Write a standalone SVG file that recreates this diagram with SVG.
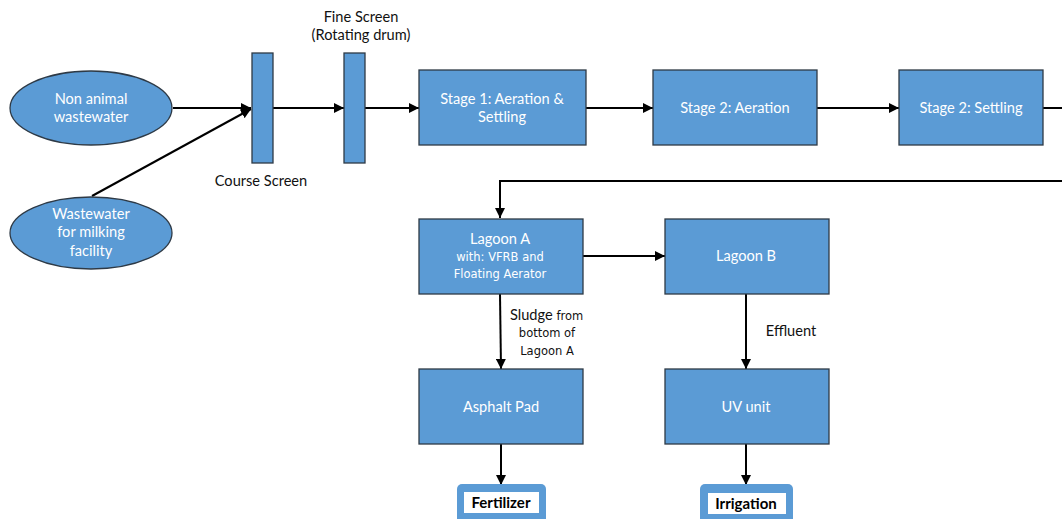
<svg xmlns="http://www.w3.org/2000/svg" width="1062" height="519" viewBox="0 0 1062 519">
<style>
.box{fill:#5b9bd5;stroke:#2e3a46;stroke-width:1.3}
.wt{fill:#ffffff;font-family:Lato,"Open Sans",sans-serif;font-size:14.6px;text-anchor:middle}
.ws{fill:#ffffff;font-family:"DejaVu Sans",sans-serif;font-size:11.5px;text-anchor:middle}
.bt{fill:#111111;font-family:Lato,"Open Sans",sans-serif;font-size:14.6px;text-anchor:middle}
.bs{fill:#111111;font-family:"DejaVu Sans",sans-serif;font-size:11.5px;text-anchor:middle}
.ln{fill:none;stroke:#000;stroke-width:2}
.out{fill:#5b9bd5}
.inn{fill:#fff}
.ot{fill:#000;font-family:Lato,"Open Sans",sans-serif;font-size:15px;font-weight:bold;text-anchor:middle}
</style>
<defs>
<marker id="ah" viewBox="0 0 10 10" refX="10" refY="5" markerWidth="5" markerHeight="5" orient="auto" markerUnits="strokeWidth">
<path d="M0,0 L10,5 L0,10 z" fill="#000"/>
</marker>
</defs>
<rect width="1062" height="519" fill="#fff"/>
<g id="connectors">
<line class="ln" x1="173" y1="108" x2="251" y2="108" marker-end="url(#ah)"/>
<line class="ln" x1="92" y1="196" x2="251" y2="109" marker-end="url(#ah)"/>
<line class="ln" x1="273" y1="108" x2="344" y2="108" marker-end="url(#ah)"/>
<line class="ln" x1="365" y1="108" x2="419" y2="108" marker-end="url(#ah)"/>
<line class="ln" x1="586" y1="108" x2="653" y2="108" marker-end="url(#ah)"/>
<line class="ln" x1="817" y1="108" x2="899" y2="108" marker-end="url(#ah)"/>
<line class="ln" x1="1043" y1="108" x2="1062" y2="108"/>
<polyline class="ln" points="1062,181 500,181 500,218" marker-end="url(#ah)"/>
<line class="ln" x1="583" y1="256" x2="665" y2="256" marker-end="url(#ah)"/>
<line class="ln" x1="500" y1="294" x2="501" y2="369" marker-end="url(#ah)"/>
<line class="ln" x1="746" y1="294" x2="746" y2="369" marker-end="url(#ah)"/>
<line class="ln" x1="501" y1="444" x2="501" y2="485" marker-end="url(#ah)"/>
<line class="ln" x1="746" y1="444" x2="746" y2="485" marker-end="url(#ah)"/>
</g>
<g id="n-nonanimal">
<ellipse class="box" cx="91" cy="108" rx="81" ry="37"/>
<text class="wt" x="91" y="104">Non animal</text>
<text class="wt" x="91" y="122">wastewater</text>
</g>
<g id="n-milking">
<ellipse class="box" cx="91" cy="233" rx="81" ry="36"/>
<text class="wt" x="91" y="219">Wastewater</text>
<text class="wt" x="91" y="237">for milking</text>
<text class="wt" x="91" y="256">facility</text>
</g>
<g id="n-course">
<rect class="box" x="252" y="53" width="21" height="110"/>
<text class="bt" x="261" y="186">Course Screen</text>
</g>
<g id="n-fine">
<rect class="box" x="344" y="53" width="21" height="110"/>
<text class="bt" x="361" y="22">Fine Screen</text>
<text class="bt" x="361" y="40">(Rotating drum)</text>
</g>
<g id="n-stage1">
<rect class="box" x="419" y="70" width="167" height="75"/>
<text class="wt" x="502" y="104">Stage 1: Aeration &amp;</text>
<text class="wt" x="502" y="122">Settling</text>
</g>
<g id="n-stage2a">
<rect class="box" x="653" y="70" width="164" height="75"/>
<text class="wt" x="735" y="113">Stage 2: Aeration</text>
</g>
<g id="n-stage2s">
<rect class="box" x="899" y="70" width="144" height="75"/>
<text class="wt" x="971" y="113">Stage 2: Settling</text>
</g>
<g id="n-lagoonA">
<rect class="box" x="419" y="219" width="164" height="75"/>
<text class="wt" x="500" y="244">Lagoon A</text>
<text class="ws" x="500" y="261">with: VFRB and</text>
<text class="ws" x="500" y="278">Floating Aerator</text>
</g>
<g id="n-lagoonB">
<rect class="box" x="665" y="219" width="164" height="75"/>
<text class="wt" x="746" y="261">Lagoon B</text>
</g>
<g id="n-asphalt">
<rect class="box" x="419" y="369" width="164" height="75"/>
<text class="wt" x="501" y="412">Asphalt Pad</text>
</g>
<g id="n-uv">
<rect class="box" x="665" y="369" width="164" height="75"/>
<text class="wt" x="746" y="412">UV unit</text>
</g>
<g id="l-sludge">
<text x="510" y="320" fill="#111" font-family="Lato, 'Open Sans', sans-serif" font-size="14.6">Sludge<tspan font-family="'DejaVu Sans', sans-serif" font-size="11.5"> from</tspan></text>
<text class="bs" x="547" y="337">bottom of</text>
<text class="bs" x="547" y="355">Lagoon A</text>
</g>
<g id="l-effluent">
<text class="bt" x="791" y="336">Effluent</text>
</g>
<g id="n-fertilizer">
<rect class="out" x="457" y="484" width="89" height="40" rx="5"/>
<rect class="inn" x="464" y="492" width="75" height="21"/>
<text class="ot" x="501" y="508">Fertilizer</text>
</g>
<g id="n-irrigation">
<rect class="out" x="700" y="484" width="93" height="40" rx="5"/>
<rect class="inn" x="708" y="493" width="78" height="21"/>
<text class="ot" x="746" y="509">Irrigation</text>
</g>
</svg>
